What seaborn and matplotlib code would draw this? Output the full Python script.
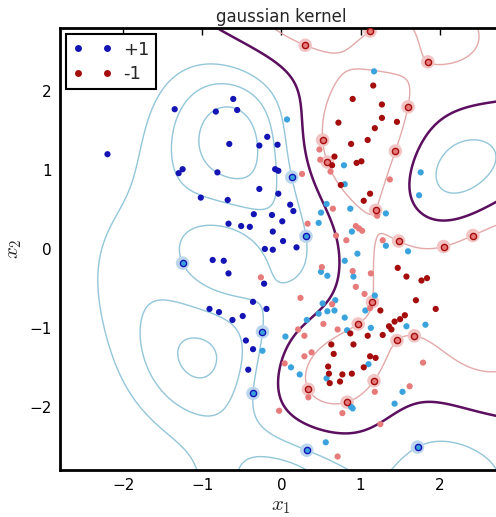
import numpy as np
import pandas as pd
import matplotlib
matplotlib.use("Agg")
import matplotlib.pyplot as plt
from matplotlib.lines import Line2D
import seaborn as sns

# ---- data (x1, x2) ----
# class +1 : non support vectors, free support vectors (circled), bounded support vectors (light)
pos_x = [-2.20,-1.35,-0.83,-0.61,-0.56,-0.66,-1.30,-1.25,-0.81,-1.02,-0.68,-0.67,-0.51,-0.40,-0.87,-0.73,-0.67,-0.91,-0.79,-0.62,-0.49,-0.45,-0.42,-0.36,-0.18,-0.28,-0.05,-0.08,-0.04,-0.28,-0.04,0.11,0.15,-0.12,-0.35,0.01,-0.11,0.02,-0.21,-0.11,0.19,-0.22,-0.36,-0.19]
pos_y = [1.20,1.77,1.74,1.90,1.76,1.33,0.96,1.01,0.97,0.65,0.62,0.32,0.29,0.28,-0.14,-0.15,-0.31,-0.76,-0.80,-0.90,-0.85,-1.16,-1.53,-1.27,1.42,1.31,1.32,1.01,0.99,0.76,0.70,0.56,0.48,0.43,0.44,0.35,0.22,0.10,0.00,-0.01,0.02,-0.44,-0.67,-0.76]
pos_sv_x = [-1.25,0.13,0.31,-0.24,-0.36,0.32,1.72]
pos_sv_y = [-0.18,0.91,0.16,-1.05,-1.83,-2.55,-2.51]
pos_bnd_x = [1.17,0.07,0.79,0.80,1.76,1.74,1.32,0.57,0.87,0.50,0.47,0.89,1.32,1.60,0.96,0.80,0.50,0.58,0.91,1.18,0.52,0.68,0.58,0.67,0.47,0.32,0.80,0.83,1.06,1.13,1.58,1.82,0.05,-0.24,0.12,0.23,0.57,1.10,1.53,1.43,0.88,0.90,0.56]
pos_bnd_y = [2.25,1.64,1.06,0.82,0.97,0.68,0.45,0.57,0.51,0.46,0.33,0.22,0.04,-0.03,-0.06,-0.15,-0.29,-0.34,-0.35,-0.59,-0.69,-0.65,-0.79,-0.78,-0.82,-0.90,-0.87,-1.03,-0.78,-1.00,-0.98,-0.96,-1.11,-1.29,-1.50,-1.59,-1.64,-1.46,-1.81,-1.96,-2.00,-2.02,-2.45]
# class -1
neg_x = [1.16,0.90,1.27,1.27,1.46,1.18,0.72,1.09,0.88,0.67,0.95,1.01,0.64,0.75,1.12,1.04,1.47,1.58,1.77,1.84,1.70,1.95,1.25,1.56,1.50,1.43,1.36,1.39,1.28,1.09,0.87,0.63,0.91,0.66,1.12,1.19,1.04,0.59,0.60,0.77,0.89,0.61,0.74]
neg_y = [2.07,1.90,1.83,1.66,1.61,1.53,1.60,1.38,1.33,1.17,1.09,1.11,1.06,0.81,0.70,0.61,-0.24,-0.35,-0.40,-0.37,-0.65,-0.76,-0.78,-0.84,-0.89,-0.92,-0.98,-1.02,-1.09,-1.10,-1.07,-1.21,-1.21,-1.33,-1.36,-1.38,-1.50,-1.49,-1.58,-1.59,-1.58,-1.70,-1.68]
neg_sv_x = [1.12,0.30,1.85,1.60,0.52,1.44,0.58,1.19,1.48,2.05,2.42,1.15,0.97,1.68,1.46,1.17,0.34,0.83]
neg_sv_y = [2.76,2.58,2.37,1.80,1.38,1.24,1.10,0.49,0.10,0.03,0.17,-0.67,-0.95,-1.10,-1.16,-1.67,-1.78,-1.94]
neg_bnd_x = [0.48,0.49,0.62,0.26,1.37,1.21,0.65,0.33,0.94,0.98,1.02,0.69,0.82,1.28,-0.26,0.51,0.90,0.94,1.05,1.13,1.12,0.24,0.64,0.53,0.71,0.21,0.29,0.38,0.29,0.04,1.79,1.18,1.62,0.34,0.77,-0.03,1.25,0.71]
neg_bnd_y = [1.26,1.13,0.98,0.95,0.88,0.42,0.51,0.32,0.29,0.26,0.23,0.17,0.11,0.11,-0.36,-0.23,-0.28,-0.48,-0.57,-0.31,-0.75,-0.62,-0.70,-0.95,-1.02,-1.02,-1.10,-1.31,-1.36,-1.45,-1.44,-1.81,-1.74,-1.88,-2.08,-2.05,-2.22,-2.63]

class_labels = ["+1", "-1"]
gamma = 0.7          # gaussian kernel parameter
C_soft = 10.0        # soft-margin constant (weight of bounded support vectors)
levels = [-1, 0, 1, 1.6, 2.2]

# ---- assemble training table ----
rows = []
for gx, gy, lab, kind in [(pos_x, pos_y, 1, "plain"), (pos_sv_x, pos_sv_y, 1, "sv"), (pos_bnd_x, pos_bnd_y, 1, "bnd"),
                          (neg_x, neg_y, -1, "plain"), (neg_sv_x, neg_sv_y, -1, "sv"), (neg_bnd_x, neg_bnd_y, -1, "bnd")]:
    for a, b in zip(gx, gy):
        rows.append((a, b, lab, kind))
df = pd.DataFrame(rows, columns=["x1", "x2", "label", "kind"])
P = df[["x1", "x2"]].to_numpy()
yv = df["label"].to_numpy(float)
free = (df["kind"] == "sv").to_numpy()
bnd = (df["kind"] == "bnd").to_numpy()


def kern(A, B, g):
    d2 = ((A[:, None, :] - B[None, :, :]) ** 2).sum(-1)
    return np.exp(-g * d2)


# dual coefficients from the KKT conditions: circled points lie on the margins,
# light points carry the full weight C, and sum(alpha * y) = 0
K = kern(P, P, gamma)
fi = np.where(free)[0]; nf = len(fi)
A = np.zeros((nf + 1, nf + 1)); rhs = np.zeros(nf + 1)
for r, i in enumerate(fi):
    A[r, :nf] = yv[fi] * K[i, fi]
    A[r, nf] = 1.0
    rhs[r] = yv[i] - C_soft * np.sum(yv[bnd] * K[i, bnd])
A[nf, :nf] = yv[fi]
rhs[nf] = -C_soft * np.sum(yv[bnd])
sol = np.linalg.solve(A, rhs)
alpha = np.zeros(len(yv)); alpha[fi] = sol[:nf]; alpha[bnd] = C_soft
bias = sol[nf]


def decision(Q):
    return kern(Q, P, gamma) @ (alpha * yv) + bias


# ---- style ----
sns.set_style("white")
plt.rcParams["font.family"] = ["DejaVu Sans"]
plt.rcParams["mathtext.fontset"] = "cm"

fig = plt.figure(figsize=(4.96, 5.17), dpi=100)
ax = fig.add_axes([0.121, 0.091, 0.893, 0.855])

lim = (-2.8, 2.8)
g1 = np.linspace(lim[0], lim[1], 240)
X1, X2 = np.meshgrid(g1, g1)
Z = decision(np.c_[X1.ravel(), X2.ravel()]).reshape(X1.shape)

lev_colors = ["#e3a9a9", "#5b0f5e", "#93c6d9", "#93c6d9", "#93c6d9"]
lev_widths = [1.0, 1.8, 1.0, 1.0, 1.0]
ax.contour(X1, X2, Z, levels=levels, colors=lev_colors, linewidths=lev_widths,
           linestyles="solid", zorder=1)

dark = {1: "#1414b4", -1: "#a50d0d"}
light = {1: "#3aa3de", -1: "#e77a7a"}
halo = {1: "#bcd6ee", -1: "#f2c4c4"}

for lab in (1, -1):
    d = df[df.label == lab]
    sv = d[d.kind == "sv"]
    sns.scatterplot(data=sv, x="x1", y="x2", ax=ax, s=95, color=halo[lab], edgecolor="none",
                    linewidth=0, zorder=2, legend=False)
    sns.scatterplot(data=d[d.kind == "bnd"], x="x1", y="x2", ax=ax, s=20, color=light[lab],
                    edgecolor="none", linewidth=0, zorder=3, legend=False)
    sns.scatterplot(data=d[d.kind == "plain"], x="x1", y="x2", ax=ax, s=20, color=dark[lab],
                    edgecolor="none", linewidth=0, zorder=3, legend=False)
    sns.scatterplot(data=sv, x="x1", y="x2", ax=ax, s=20, color=light[lab], edgecolor=dark[lab],
                    linewidth=1.0, zorder=4, legend=False)

ax.set_xlim(*lim); ax.set_ylim(*lim)
ax.set_xticks([-2, -1, 0, 1, 2]); ax.set_yticks([-2, -1, 0, 1, 2])
ax.set_xticklabels(["\u22122", "\u22121", "0", "1", "2"])
ax.set_yticklabels(["\u22122", "\u22121", "0", "1", "2"])
ax.tick_params(direction="in", length=5, width=1, top=True, right=True, labelsize=11,
               pad=6, colors="black")
for s in ax.spines.values():
    s.set_linewidth(2.0); s.set_color("black")
ax.set_xlabel("$x_1$", fontsize=15, labelpad=2)
ax.set_ylabel("$x_2$", fontsize=15, labelpad=4)
ax.set_title("gaussian kernel", fontsize=12, pad=4)

handles = [Line2D([0], [0], marker="o", linestyle="", markersize=5, color=dark[1], markeredgewidth=0),
           Line2D([0], [0], marker="o", linestyle="", markersize=5, color=dark[-1], markeredgewidth=0)]
leg = ax.legend(handles, class_labels, loc="upper left", numpoints=2, fontsize=13, frameon=True,
                fancybox=False, framealpha=1, edgecolor="black", borderaxespad=0.35,
                handlelength=2.2, handletextpad=0.6, borderpad=0.35, labelspacing=0.35)
leg.get_frame().set_linewidth(1.5)

fig.savefig("out.png", dpi=100)
